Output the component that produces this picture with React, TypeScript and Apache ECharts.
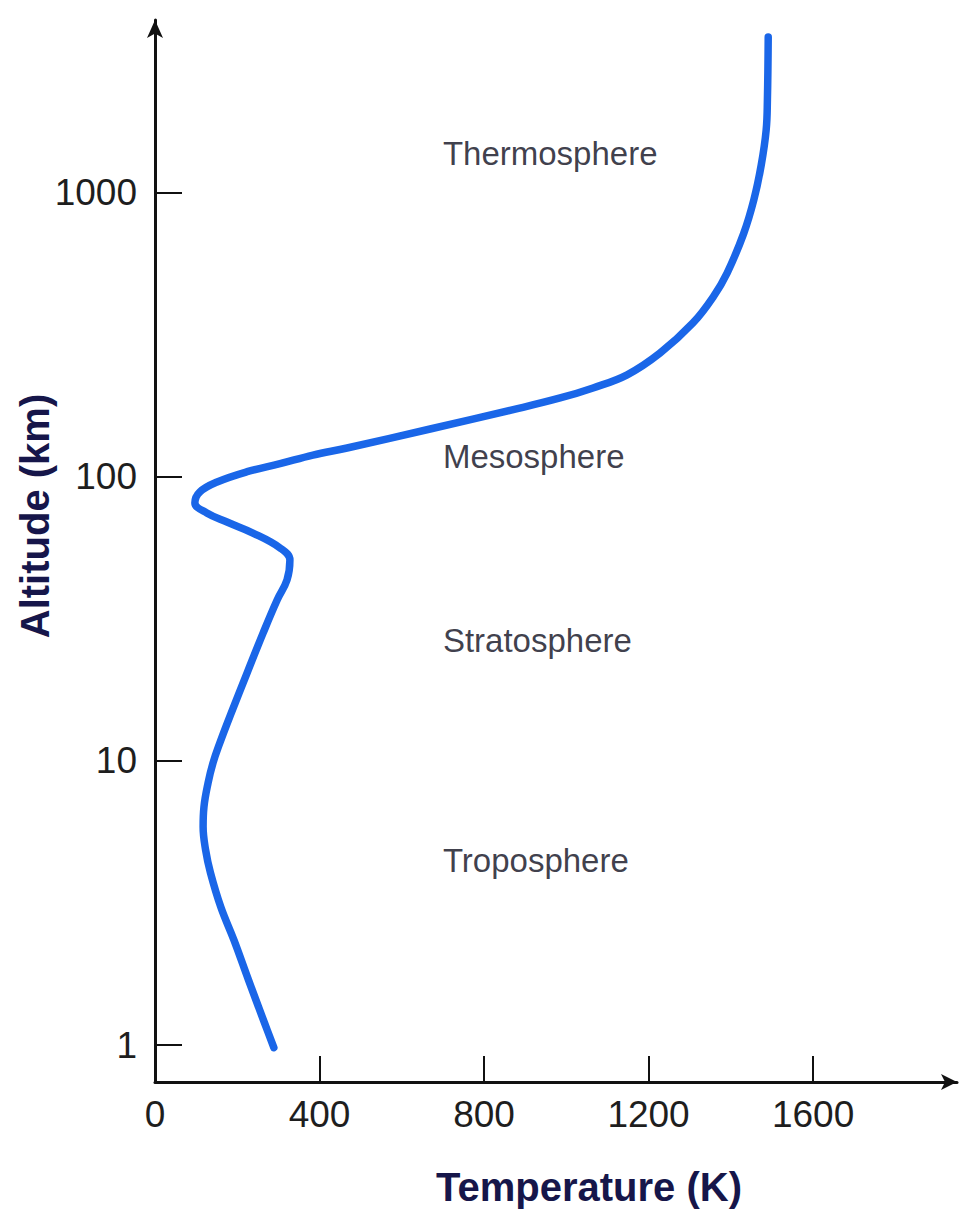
import React, { useEffect, useRef } from 'react';
import * as echarts from 'echarts';

// Temperature profile of the atmosphere
const temperatureK = [289, 266, 227, 192, 160, 135, 123, 117, 119, 129, 141, 156, 185, 224, 263, 297, 321, 328, 304, 238, 175, 126, 97, 109, 151, 224, 304, 384, 467, 669, 871, 985, 1065, 1148, 1228, 1308, 1357, 1391, 1431, 1456, 1474, 1486, 1489, 1491];
const altitudeKm = [0.98, 1.2, 1.7, 2.34, 3.06, 4.03, 4.86, 5.86, 6.88, 8.36, 9.83, 11.4, 14.7, 20.4, 28.2, 36.8, 43.3, 50.9, 56.1, 63.3, 69.2, 74.5, 80.8, 88.3, 95.7, 104, 111, 119, 126, 147, 172, 189, 205, 228, 272, 347, 428, 520, 714, 940, 1247, 1656, 2112, 3518];

// Layer names and where they are written (temperature, altitude)
const layerNames = ['Thermosphere', 'Mesosphere', 'Stratosphere', 'Troposphere'];
const layerTemperature = [700, 700, 700, 700];
const layerAltitude = [1370, 118, 26.5, 4.45];

// Tick labels
const xTicks = [0, 400, 800, 1200, 1600];
const yTicks = [1, 10, 100, 1000];

const xTitle = 'Temperature (K)';
const yTitle = 'Altitude (km)';

export default function App() {
  const ref = useRef<HTMLDivElement>(null);

  useEffect(() => {
    if (!ref.current) return;
    const chart = echarts.init(ref.current, undefined, { renderer: 'svg' });

    const profile = temperatureK.map((t, i) => [t, altitudeKm[i]]);
    const layers = layerNames.map((n, i) => ({ name: n, value: [layerTemperature[i], layerAltitude[i]] }));

    const axisColor = '#111';
    const labelFont = {
      fontFamily: 'Liberation Sans, Arial, sans-serif',
      fontSize: 37,
      color: '#1e1e1e',
    };

    chart.setOption({
      animation: false,
      backgroundColor: '#ffffff',
      grid: { left: 155, top: 20, width: 802, height: 1062, containLabel: false },
      xAxis: {
        type: 'value',
        min: 0,
        max: 1950,
        axisLine: {
          show: true,
          onZero: false,
          symbol: ['none', 'arrow'],
          symbolSize: [12, 16],
          lineStyle: { color: axisColor, width: 3 },
        },
        axisTick: {
          show: true,
          inside: true,
          length: 26,
          customValues: xTicks,
          lineStyle: { color: axisColor, width: 2 },
        },
        axisLabel: {
          ...labelFont,
          margin: 14,
          customValues: xTicks,
          formatter: (v: number) => String(v),
        },
        splitLine: { show: false },
      },
      yAxis: {
        type: 'log',
        logBase: 10,
        min: 0.742,
        max: 4036,
        axisLine: {
          show: true,
          onZero: false,
          symbol: ['none', 'arrow'],
          symbolSize: [12, 18],
          lineStyle: { color: axisColor, width: 3 },
        },
        axisTick: {
          show: true,
          inside: true,
          length: 27,
          customValues: yTicks,
          lineStyle: { color: axisColor, width: 2 },
        },
        axisLabel: {
          ...labelFont,
          margin: 18,
          customValues: yTicks,
          formatter: (v: number) => String(Math.round(v)),
        },
        splitLine: { show: false },
        minorTick: { show: false },
        minorSplitLine: { show: false },
      },
      series: [
        {
          type: 'line',
          data: profile,
          showSymbol: false,
          smooth: 0.4,
          clip: false,
          lineStyle: { color: '#1a66e8', width: 7.5, cap: 'round', join: 'round' },
          silent: true,
        },
        {
          type: 'scatter',
          data: layers,
          symbolSize: 0,
          silent: true,
          label: {
            show: true,
            position: 'right',
            distance: 0,
            formatter: (p: any) => p.name,
            fontFamily: 'Liberation Sans, Arial, sans-serif',
            fontSize: 33,
            color: '#0c0c1c',
          },
        },
      ],
      graphic: [
        {
          type: 'text',
          x: 589,
          y: 1187,
          style: {
            text: xTitle,
            font: 'bold 40px "Liberation Sans", Arial, sans-serif',
            fill: '#16164a',
            align: 'center',
            verticalAlign: 'middle',
          },
        },
        {
          type: 'text',
          x: 35,
          y: 516,
          rotation: Math.PI / 2,
          style: {
            text: yTitle,
            font: 'bold 40px "Liberation Sans", Arial, sans-serif',
            fill: '#16164a',
            align: 'center',
            verticalAlign: 'middle',
          },
        },
      ],
    });

    return () => chart.dispose();
  }, []);

  return (
    <div
      ref={ref}
      style={{ position: 'absolute', left: 0, top: 0, width: 961, height: 1211, background: '#fff' }}
    />
  );
}
